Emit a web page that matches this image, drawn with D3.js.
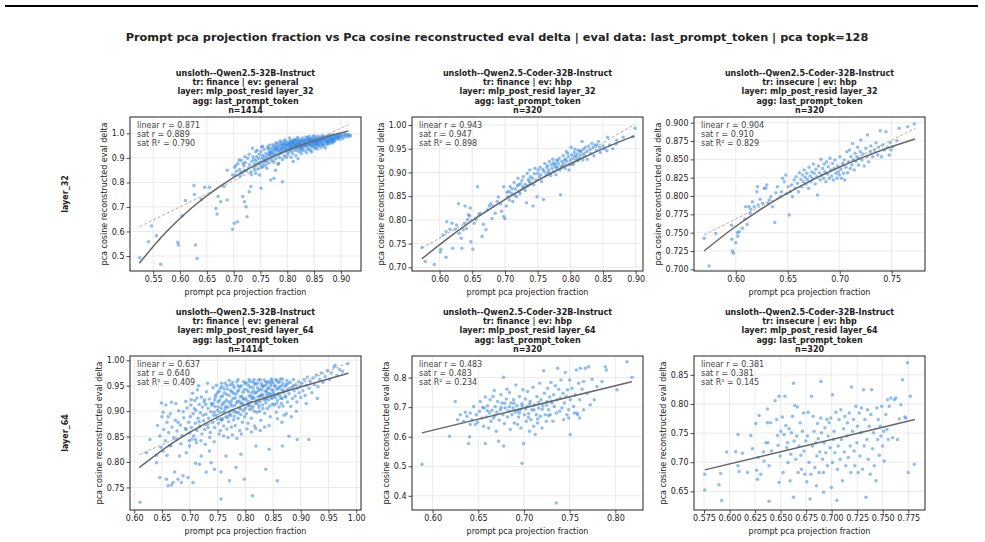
<!DOCTYPE html>
<html><head><meta charset="utf-8">
<script src="https://cdn.jsdelivr.net/npm/d3@7"></script>
<style>body{margin:0;background:#fff}svg text{font-family:"DejaVu Sans",sans-serif}</style>
</head><body><svg id="c" width="985" height="542"></svg>
<script>
const mainTitle = "Prompt pca projection fraction vs Pca cosine reconstructed eval delta | eval data: last_prompt_token | pca topk=128";
const rowLabels = ["layer_32", "layer_64"];
const panelTitles = [
  ["unsloth--Qwen2.5-32B-Instruct","tr: finance | ev: general","layer: mlp_post_resid layer_32","agg: last_prompt_token","n=1414"],
  ["unsloth--Qwen2.5-Coder-32B-Instruct","tr: finance | ev: hbp","layer: mlp_post_resid layer_32","agg: last_prompt_token","n=320"],
  ["unsloth--Qwen2.5-Coder-32B-Instruct","tr: insecure | ev: hbp","layer: mlp_post_resid layer_32","agg: last_prompt_token","n=320"],
  ["unsloth--Qwen2.5-32B-Instruct","tr: finance | ev: general","layer: mlp_post_resid layer_64","agg: last_prompt_token","n=1414"],
  ["unsloth--Qwen2.5-Coder-32B-Instruct","tr: finance | ev: hbp","layer: mlp_post_resid layer_64","agg: last_prompt_token","n=320"],
  ["unsloth--Qwen2.5-Coder-32B-Instruct","tr: insecure | ev: hbp","layer: mlp_post_resid layer_64","agg: last_prompt_token","n=320"]
];
const statTexts = [
  ["linear r = 0.871","sat r = 0.889","sat R\u00b2 = 0.790"],
  ["linear r = 0.943","sat r = 0.947","sat R\u00b2 = 0.898"],
  ["linear r = 0.904","sat r = 0.910","sat R\u00b2 = 0.829"],
  ["linear r = 0.637","sat r = 0.640","sat R\u00b2 = 0.409"],
  ["linear r = 0.483","sat r = 0.483","sat R\u00b2 = 0.234"],
  ["linear r = 0.381","sat r = 0.381","sat R\u00b2 = 0.145"]
];
const xLabel = "prompt pca projection fraction";
const yLabel = "pca cosine reconstructed eval delta";
const xTicks = [
  [0.55,0.60,0.65,0.70,0.75,0.80,0.85,0.90],
  [0.60,0.65,0.70,0.75,0.80,0.85,0.90],
  [0.60,0.65,0.70,0.75],
  [0.60,0.65,0.70,0.75,0.80,0.85,0.90,0.95,1.00],
  [0.60,0.65,0.70,0.75,0.80],
  [0.575,0.600,0.625,0.650,0.675,0.700,0.725,0.750,0.775]
];
const xFormats = [".2f",".2f",".2f",".2f",".2f",".3f"];
const yTicks = [
  [0.5,0.6,0.7,0.8,0.9,1.0],
  [0.70,0.75,0.80,0.85,0.90,0.95,1.00],
  [0.700,0.725,0.750,0.775,0.800,0.825,0.850,0.875,0.900],
  [0.75,0.80,0.85,0.90,0.95,1.00],
  [0.4,0.5,0.6,0.7,0.8],
  [0.65,0.70,0.75,0.80,0.85]
];
const yFormats = [".1f",".2f",".3f",".2f",".1f",".2f"];
const xDomains = [[0.5068,0.9374],[0.5578,0.9112],[0.5598,0.7821],[0.5923,1.0086],[0.5775,0.8303],[0.5652,0.7914]];
const yDomains = [[0.4388,1.0666],[0.6922,1.0169],[0.6977,0.9078],[0.7057,1.0084],[0.352,0.873],[0.618,0.8824]];

// saturating fit curves
const sat1 = [[0.524,0.470],[0.5728,0.5943],[0.6215,0.6955],[0.6703,0.7779],[0.719,0.845],[0.7678,0.8997],[0.8165,0.9441],[0.8653,0.9804],[0.914,1.010]];
const sat2 = [[0.573,0.718],[0.6136,0.7621],[0.6543,0.8024],[0.6949,0.8387],[0.7355,0.872],[0.7761,0.902],[0.8168,0.9295],[0.8574,0.9544],[0.898,0.977]];
const sat3 = [[0.5695,0.725],[0.5949,0.7533],[0.6203,0.7784],[0.6456,0.8005],[0.671,0.820],[0.6964,0.8372],[0.7218,0.8524],[0.7471,0.8658],[0.7725,0.8777]];
const sat4 = [[0.609,0.789],[0.670,0.838],[0.730,0.877],[0.789,0.908],[0.849,0.931],[0.909,0.9505],[0.986,0.9746]];
const sat5 = [[0.5883,0.6129],[0.818,0.786]];
const sat6 = [[0.5757,0.6869],[0.7815,0.7733]];
// linear fit (dashed)
const lin1 = [[0.525,0.620],[0.914,1.036]];
const lin2 = [[0.573,0.740],[0.898,1.001]];
const lin3 = [[0.5695,0.7468],[0.7725,0.8923]];
const lin4 = [[0.609,0.8145],[0.986,0.9954]];

const pts1 = [
[0.525,0.493],[0.541,0.558],[0.547,0.622],[0.556,0.582],[0.564,0.466],[0.596,0.556],[0.597,0.545],[0.604,0.664],[0.610,0.726],[0.626,0.787],[0.629,0.545],[0.632,0.490],[0.627,0.751],[0.640,0.731],[0.646,0.780],[0.655,0.780],[0.667,0.694],[0.669,0.671],[0.671,0.742],[0.676,0.721],[0.682,0.783],[0.688,0.728],[0.698,0.830],[0.698,0.609],[0.701,0.633],[0.707,0.640],[0.688,0.850],[0.704,0.869],[0.710,0.891],[0.713,0.840],[0.720,0.850],[0.717,0.742],[0.720,0.721],[0.723,0.701],[0.725,0.660],[0.729,0.762],[0.732,0.783],[0.735,0.939],[0.741,0.925],[0.741,0.837],[0.748,0.830],[0.751,0.776],[0.754,0.864],[0.760,0.891],[0.766,0.918],[0.769,0.810],[0.775,0.817],[0.778,0.850],[0.784,0.878],[0.754,0.946],[0.791,0.803],
[0.702,0.862],[0.705,0.845],[0.708,0.877],[0.711,0.853],[0.714,0.89],[0.716,0.838],[0.719,0.868],[0.722,0.881],[0.724,0.846],[0.726,0.898],[0.728,0.859],[0.73,0.872],[0.732,0.842],[0.734,0.886],[0.736,0.905],[0.737,0.861],[0.739,0.876],[0.703,0.83],[0.712,0.826],[0.721,0.905],[0.729,0.915],[0.733,0.831],[0.738,0.894],[0.74,0.852],[0.718,0.878],
[0.741,0.868],[0.742,0.889],[0.743,0.905],[0.745,0.878],[0.746,0.856],[0.747,0.897],[0.748,0.915],[0.749,0.872],[0.75,0.884],[0.751,0.926],[0.752,0.861],[0.753,0.899],[0.754,0.911],[0.755,0.876],[0.756,0.891],[0.757,0.934],[0.758,0.905],[0.759,0.868],[0.76,0.918],[0.761,0.886],[0.762,0.9],[0.763,0.942],[0.764,0.912],[0.765,0.879],[0.766,0.927],[0.767,0.894],[0.768,0.908],[0.769,0.937],[0.77,0.901],[0.744,0.931],[0.752,0.944],[0.758,0.886],[0.762,0.858],[0.766,0.951],[0.769,0.916],
[0.771,0.923],[0.772,0.889],[0.773,0.941],[0.774,0.908],[0.775,0.93],[0.776,0.951],[0.777,0.915],[0.778,0.897],[0.779,0.936],[0.78,0.924],[0.781,0.958],[0.782,0.911],[0.783,0.945],[0.784,0.929],[0.785,0.902],[0.786,0.962],[0.787,0.938],[0.788,0.919],[0.789,0.951],[0.79,0.933],[0.791,0.944],[0.792,0.965],[0.793,0.925],[0.794,0.908],[0.795,0.956],[0.796,0.94],[0.797,0.931],[0.798,0.968],[0.799,0.947],[0.8,0.922],[0.772,0.953],[0.775,0.882],[0.779,0.962],[0.783,0.874],[0.787,0.969],[0.791,0.893],[0.795,0.973],[0.798,0.901],[0.774,0.917],[0.778,0.945],[0.782,0.934],[0.786,0.92],[0.79,0.957],[0.794,0.939],[0.797,0.952],
[0.801,0.951],[0.802,0.935],[0.803,0.962],[0.804,0.944],[0.805,0.927],[0.806,0.972],[0.807,0.953],[0.808,0.94],[0.809,0.965],[0.81,0.918],[0.811,0.948],[0.812,0.958],[0.813,0.976],[0.814,0.936],[0.815,0.962],[0.816,0.95],[0.817,0.929],[0.818,0.968],[0.819,0.955],[0.82,0.942],[0.821,0.977],[0.822,0.961],[0.823,0.949],[0.824,0.935],[0.825,0.97],[0.826,0.957],[0.827,0.945],[0.828,0.981],[0.829,0.963],[0.83,0.952],[0.801,0.912],[0.804,0.981],[0.807,0.903],[0.81,0.967],[0.813,0.944],[0.816,0.909],[0.819,0.983],[0.822,0.925],[0.825,0.946],[0.828,0.938],[0.803,0.956],[0.806,0.946],[0.809,0.931],[0.812,0.97],[0.815,0.954],[0.818,0.941],[0.821,0.959],[0.824,0.966],[0.827,0.929],[0.83,0.973],[0.811,0.885],[0.82,0.896],[0.826,0.917],[0.808,0.958],[0.817,0.974],
[0.831,0.962],[0.832,0.944],[0.833,0.975],[0.834,0.956],[0.835,0.969],[0.836,0.948],[0.837,0.983],[0.838,0.96],[0.839,0.971],[0.84,0.937],[0.841,0.965],[0.842,0.953],[0.843,0.979],[0.844,0.967],[0.845,0.945],[0.846,0.974],[0.847,0.958],[0.848,0.986],[0.849,0.962],[0.85,0.951],[0.851,0.977],[0.852,0.966],[0.853,0.943],[0.854,0.981],[0.855,0.97],[0.856,0.958],[0.857,0.988],[0.858,0.974],[0.859,0.963],[0.86,0.979],[0.832,0.929],[0.835,0.985],[0.838,0.935],[0.841,0.988],[0.844,0.93],[0.847,0.946],[0.85,0.99],[0.853,0.961],[0.856,0.936],[0.859,0.948],[0.834,0.961],[0.837,0.95],[0.84,0.976],[0.843,0.958],[0.846,0.964],[0.849,0.972],[0.852,0.955],[0.855,0.962],[0.858,0.952],[0.836,0.921],[0.845,0.924],[0.851,0.938],[0.857,0.968],[0.842,0.971],[0.854,0.967],
[0.861,0.967],[0.862,0.985],[0.863,0.955],[0.864,0.975],[0.865,0.962],[0.866,0.991],[0.867,0.971],[0.868,0.948],[0.869,0.981],[0.87,0.966],[0.871,0.976],[0.872,0.958],[0.873,0.988],[0.874,0.97],[0.875,0.979],[0.876,0.962],[0.877,0.993],[0.878,0.975],[0.879,0.984],[0.88,0.968],[0.881,0.978],[0.882,0.99],[0.883,0.961],[0.884,0.982],[0.885,0.973],[0.886,0.995],[0.887,0.979],[0.888,0.987],[0.889,0.971],[0.89,0.983],[0.863,0.943],[0.867,0.952],[0.871,0.94],[0.875,0.955],[0.879,0.96],[0.883,0.974],[0.887,0.966],[0.865,0.978],[0.873,0.967],[0.881,0.97],
[0.891,0.991],[0.892,0.978],[0.893,0.986],[0.894,0.996],[0.895,0.981],[0.896,0.99],[0.897,0.975],[0.898,0.994],[0.899,0.985],[0.9,0.998],[0.902,0.987],[0.903,0.979],[0.905,0.993],[0.907,0.999],[0.908,0.985],[0.91,0.991],[0.912,0.996],[0.914,0.987],[0.916,0.993],[0.918,0.99],
[0.802,0.958],[0.805,0.965],[0.808,0.948],[0.811,0.962],[0.814,0.971],[0.817,0.955],[0.82,0.967],[0.823,0.958],[0.826,0.972],[0.829,0.948],[0.832,0.968],[0.835,0.958],[0.838,0.975],[0.841,0.952],[0.844,0.976],[0.847,0.968],[0.85,0.978],[0.853,0.97],[0.856,0.98],[0.859,0.972],[0.862,0.968],[0.865,0.984],[0.868,0.975],[0.871,0.985],[0.874,0.98],[0.877,0.97],[0.88,0.988],[0.883,0.98],[0.886,0.975],[0.889,0.99],
[0.79,0.94],[0.793,0.952],[0.796,0.96],[0.799,0.935],[0.78,0.94],[0.784,0.95],[0.788,0.93],[0.776,0.935],[0.77,0.925],[0.765,0.938],
[0.805,0.94],[0.815,0.945],[0.825,0.94],[0.835,0.952],[0.845,0.96],[0.855,0.952],[0.865,0.958],[0.875,0.965],[0.885,0.965],[0.895,0.985]
];
const pts2 = [
[0.573,0.742],[0.578,0.712],[0.592,0.706],[0.601,0.732],[0.602,0.738],[0.605,0.768],[0.610,0.775],[0.611,0.796],[0.610,0.721],[0.616,0.780],[0.619,0.793],[0.620,0.740],[0.624,0.780],[0.626,0.789],[0.629,0.834],[0.630,0.772],[0.633,0.761],[0.634,0.740],[0.636,0.779],[0.638,0.793],[0.641,0.782],[0.643,0.801],[0.639,0.829],[0.647,0.825],[0.644,0.811],[0.646,0.808],[0.648,0.754],[0.651,0.738],[0.653,0.793],[0.656,0.801],[0.658,0.870],[0.660,0.811],[0.662,0.814],[0.665,0.765],[0.667,0.791],[0.671,0.779],[0.673,0.821],[0.676,0.829],[0.678,0.834],[0.680,0.803],[0.682,0.829],[0.685,0.814],[0.688,0.839],[0.690,0.848],[0.693,0.834],[0.695,0.818],[0.698,0.807],[0.698,0.870],[0.700,0.803],[0.702,0.829],[0.704,0.849],[0.706,0.860],[0.708,0.870],[0.710,0.856],[0.712,0.839],[0.714,0.879],[0.716,0.865],[0.718,0.849],[0.720,0.888],[0.721,0.874],[0.722,0.860],[0.724,0.876],[0.726,0.883],[0.728,0.891],[0.729,0.867],[0.731,0.875],[0.733,0.836],[0.734,0.898],[0.736,0.885],[0.737,0.881],[0.738,0.905],[0.739,0.891],[0.742,0.888],[0.743,0.829],[0.744,0.874],[0.745,0.897],[0.746,0.909],[0.748,0.884],[0.749,0.849],[0.750,0.898],[0.751,0.905],[0.753,0.891],[0.754,0.911],[0.755,0.895],[0.756,0.881],[0.758,0.906],[0.759,0.843],[0.760,0.902],[0.761,0.919],[0.763,0.895],[0.764,0.911],[0.765,0.914],[0.767,0.905],[0.768,0.923],[0.769,0.898],[0.771,0.916],[0.772,0.909],[0.773,0.928],[0.774,0.902],[0.776,0.914],[0.777,0.919],[0.778,0.895],[0.779,0.926],[0.780,0.911],[0.782,0.918],[0.783,0.930],[0.784,0.905],[0.785,0.853],[0.787,0.923],[0.788,0.914],[0.789,0.935],[0.790,0.919],[0.792,0.909],[0.793,0.928],[0.794,0.944],[0.795,0.923],[0.797,0.933],[0.799,0.916],[0.800,0.926],[0.801,0.953],[0.802,0.937],[0.804,0.930],[0.805,0.919],[0.806,0.942],[0.807,0.949],[0.809,0.933],[0.810,0.926],[0.811,0.939],[0.812,0.947],[0.814,0.930],[0.815,0.944],[0.816,0.937],[0.818,0.965],[0.819,0.926],[0.820,0.949],[0.821,0.940],[0.823,0.953],[0.825,0.944],[0.828,0.956],[0.830,0.949],[0.833,0.961],[0.835,0.953],[0.838,0.958],[0.840,0.947],[0.843,0.965],[0.845,0.953],[0.850,0.956],[0.856,0.946],[0.857,0.974],[0.871,0.968],[0.881,0.974],[0.896,0.975],[0.899,0.993],
[0.703,0.858],[0.707,0.842],[0.711,0.865],[0.715,0.852],[0.719,0.872],[0.723,0.855],[0.727,0.87],[0.731,0.862],[0.735,0.872],[0.739,0.878],
[0.766,0.9],[0.77,0.893],[0.774,0.92],[0.778,0.91],[0.781,0.924],[0.786,0.912],[0.791,0.926],[0.796,0.94],[0.798,0.905],[0.803,0.917],[0.807,0.935],[0.812,0.925],[0.816,0.945],[0.822,0.934],[0.826,0.928],[0.831,0.94],[0.836,0.935],[0.841,0.958],[0.846,0.942],[0.852,0.95],[0.86,0.958],[0.865,0.95],[0.87,0.96]
];
const pts3 = [
[0.5695,0.7423],[0.5743,0.7046],[0.5807,0.749],[0.5968,0.725],[0.5961,0.741],[0.600,0.7364],[0.6016,0.750],[0.6032,0.7514],[0.5977,0.7218],[0.6064,0.756],[0.6087,0.7686],[0.6096,0.7855],[0.6128,0.7855],[0.6145,0.7818],[0.6138,0.7764],[0.616,0.7923],[0.6177,0.7855],[0.6202,0.8059],[0.6215,0.7877],[0.6234,0.7955],[0.6257,0.790],[0.6273,0.8105],[0.6299,0.815],[0.6311,0.790],[0.6321,0.7945],[0.6337,0.7991],[0.6353,0.7855],[0.6376,0.764],[0.6385,0.8045],[0.6401,0.8127],[0.6427,0.7991],[0.644,0.8059],[0.645,0.8241],[0.6466,0.8195],[0.6482,0.8286],[0.6491,0.8036],[0.6504,0.8127],[0.6514,0.7741],[0.6523,0.8059],[0.6536,0.815],[0.6546,0.7991],[0.6562,0.8218],[0.6572,0.8105],[0.6581,0.8264],[0.6594,0.8173],[0.6604,0.8059],[0.6613,0.8318],[0.6626,0.8227],[0.6633,0.8127],[0.6642,0.8286],[0.6652,0.8195],[0.6658,0.8355],[0.6668,0.8255],[0.6674,0.8164],[0.6684,0.8309],[0.669,0.8227],[0.670,0.8105],[0.6706,0.8391],[0.6716,0.8273],[0.6722,0.8195],[0.6732,0.8327],[0.6739,0.8241],[0.6748,0.8436],[0.6755,0.8309],[0.6764,0.8164],[0.6771,0.8364],[0.678,0.8264],[0.6787,0.8014],[0.6796,0.8409],[0.6803,0.8318],[0.6812,0.8218],[0.6819,0.850],[0.6825,0.8286],[0.6835,0.8377],[0.6845,0.8241],[0.6851,0.8436],[0.6857,0.8332],[0.6867,0.8195],[0.6874,0.8468],[0.6883,0.830],[0.6889,0.840],[0.6899,0.8241],[0.6906,0.8514],[0.6915,0.8355],[0.6922,0.8273],[0.6931,0.8445],[0.6938,0.8218],[0.6947,0.8377],[0.6954,0.8491],[0.6963,0.8309],[0.6973,0.8241],[0.6979,0.8409],[0.6986,0.8332],[0.6995,0.8286],[0.7002,0.8536],[0.7012,0.8364],[0.7018,0.8241],[0.7028,0.8445],[0.7037,0.8309],[0.7044,0.8491],[0.705,0.8218],[0.706,0.8391],[0.7069,0.8605],[0.7076,0.8318],[0.7085,0.8468],[0.7095,0.8627],[0.7101,0.8377],[0.7108,0.8536],[0.7117,0.8423],[0.7124,0.8718],[0.7133,0.8491],[0.714,0.8355],[0.7149,0.8582],[0.7156,0.8473],[0.7166,0.8536],[0.7172,0.8664],[0.7182,0.8423],[0.7188,0.8514],[0.7198,0.8605],[0.7204,0.8764],[0.7214,0.8491],[0.7223,0.8573],[0.7236,0.8409],[0.7252,0.865],[0.7262,0.8536],[0.7268,0.8832],[0.7278,0.8468],[0.7294,0.8605],[0.730,0.8682],[0.7317,0.8536],[0.7333,0.8627],[0.7349,0.8727],[0.7365,0.8559],[0.7374,0.8664],[0.739,0.8891],[0.7403,0.8536],[0.7413,0.8695],[0.7429,0.8627],[0.7445,0.8877],[0.7461,0.8664],[0.7477,0.8559],[0.7487,0.8727],[0.7493,0.8627],[0.7573,0.8923],[0.7654,0.8945],[0.7718,0.8982],[0.751,0.8673],[0.755,0.8755],
[0.602,0.745],[0.611,0.761],[0.596,0.760],[0.6209,0.8127],[0.6289,0.8105]
];
const pts4 = [
[0.6101,0.7207],[0.640,0.7988],[0.646,0.7695],[0.6579,0.7663],[0.6609,0.7533],[0.6669,0.7546],[0.6728,0.7806],[0.6699,0.7598],[0.6788,0.7663],[0.6848,0.7598],[0.6878,0.7728],[0.6967,0.7695],[0.7057,0.7598],[0.7104,0.7975],[0.7176,0.7956],[0.7296,0.7806],[0.7385,0.7988],[0.7445,0.7858],[0.7564,0.7272],[0.7564,0.7806],[0.7713,0.763],[0.7833,0.789],[0.7982,0.7663],[0.8131,0.7337],[0.837,0.7858],[0.8579,0.763],[0.9146,0.8444],[0.640,0.8132],[0.6519,0.8216],[0.6591,0.8132],[0.6639,0.8327],[0.6519,0.8978],[0.6669,0.9173],[0.6937,0.8639],[0.7027,0.9225],[0.7266,0.9225],[0.7104,0.8444],[0.6281,0.8444],[0.6221,0.8184],[0.6758,0.8444],[0.6818,0.8118],[0.6937,0.8184],[0.6997,0.8314],[0.7206,0.8118],[0.7355,0.8216],[0.7654,0.8118],[0.7922,0.8151],[0.8191,0.8314],[0.843,0.8249],[0.8669,0.8314],[0.8788,0.8509],[0.8937,0.8444],[0.649,0.916],
[0.642,0.872],[0.646,0.851],[0.65,0.889],[0.653,0.864],[0.656,0.842],[0.659,0.878],[0.662,0.858],[0.665,0.895],[0.668,0.869],[0.671,0.848],[0.674,0.882],[0.677,0.861],[0.68,0.901],[0.683,0.873],[0.686,0.852],[0.689,0.887],[0.692,0.866],[0.695,0.906],[0.698,0.878],[0.7,0.857],[0.648,0.829],[0.657,0.912],[0.666,0.832],[0.675,0.915],[0.684,0.836],[0.693,0.919],[0.699,0.842],[0.661,0.889],[0.679,0.878],[0.688,0.899],
[0.701,0.889],[0.702,0.912],[0.703,0.868],[0.705,0.935],[0.706,0.895],[0.707,0.851],[0.709,0.921],[0.71,0.876],[0.711,0.902],[0.713,0.862],[0.714,0.942],[0.715,0.886],[0.717,0.913],[0.718,0.871],[0.719,0.897],[0.721,0.928],[0.722,0.855],[0.723,0.908],[0.725,0.881],[0.726,0.918],[0.727,0.864],[0.729,0.894],[0.73,0.938],[0.731,0.874],[0.733,0.905],[0.734,0.886],[0.735,0.924],[0.737,0.858],[0.738,0.899],[0.739,0.915],[0.741,0.878],[0.742,0.946],[0.743,0.892],[0.745,0.868],[0.746,0.909],[0.747,0.932],[0.749,0.885],[0.75,0.902],[0.704,0.845],[0.712,0.838],[0.72,0.842],[0.728,0.835],[0.736,0.848],[0.744,0.84],[0.716,0.95],[0.732,0.955],[0.748,0.951],[0.708,0.905],[0.724,0.892],[0.74,0.911],[0.717,0.879],[0.733,0.868],[0.745,0.922],[0.729,0.913],[0.713,0.926],
[0.751,0.918],[0.752,0.876],[0.753,0.939],[0.754,0.897],[0.755,0.862],[0.756,0.928],[0.757,0.905],[0.758,0.948],[0.759,0.884],[0.76,0.915],[0.761,0.871],[0.762,0.936],[0.763,0.899],[0.764,0.955],[0.765,0.889],[0.766,0.922],[0.767,0.865],[0.768,0.943],[0.769,0.908],[0.77,0.879],[0.771,0.931],[0.772,0.894],[0.773,0.952],[0.774,0.914],[0.775,0.869],[0.776,0.938],[0.777,0.902],[0.778,0.925],[0.779,0.883],[0.78,0.946],[0.781,0.911],[0.782,0.872],[0.783,0.933],[0.784,0.897],[0.785,0.958],[0.786,0.919],[0.787,0.886],[0.788,0.941],[0.789,0.906],[0.79,0.862],[0.791,0.929],[0.792,0.893],[0.793,0.95],[0.794,0.916],[0.795,0.878],[0.796,0.937],[0.797,0.901],[0.798,0.923],[0.799,0.889],[0.8,0.954],[0.753,0.855],[0.761,0.851],[0.769,0.848],[0.777,0.853],[0.785,0.846],[0.793,0.855],[0.757,0.882],[0.765,0.909],[0.773,0.891],[0.781,0.9],[0.789,0.92],[0.797,0.912],[0.755,0.945],[0.771,0.96],[0.787,0.962],[0.759,0.93],[0.775,0.92],[0.791,0.905],[0.763,0.918],[0.779,0.935],
[0.801,0.925],[0.802,0.895],[0.803,0.942],[0.804,0.911],[0.805,0.876],[0.806,0.951],[0.807,0.93],[0.808,0.903],[0.809,0.947],[0.81,0.918],[0.811,0.886],[0.812,0.936],[0.813,0.958],[0.814,0.909],[0.815,0.94],[0.816,0.925],[0.817,0.871],[0.818,0.953],[0.819,0.915],[0.82,0.937],[0.821,0.898],[0.822,0.946],[0.823,0.928],[0.824,0.961],[0.825,0.907],[0.826,0.943],[0.827,0.919],[0.828,0.882],[0.829,0.955],[0.83,0.933],[0.831,0.912],[0.832,0.948],[0.833,0.924],[0.834,0.961],[0.835,0.896],[0.836,0.939],[0.837,0.916],[0.838,0.952],[0.839,0.931],[0.84,0.905],[0.841,0.945],[0.842,0.922],[0.843,0.958],[0.844,0.935],[0.845,0.889],[0.846,0.95],[0.847,0.927],[0.848,0.942],[0.849,0.914],[0.85,0.956],[0.803,0.865],[0.811,0.859],[0.819,0.866],[0.827,0.862],[0.835,0.869],[0.843,0.872],[0.806,0.915],[0.814,0.928],[0.822,0.921],[0.83,0.95],[0.838,0.94],[0.846,0.932],[0.808,0.958],[0.816,0.962],[0.824,0.94],[0.832,0.931],[0.84,0.957],[0.848,0.96],[0.812,0.905],[0.826,0.9],
[0.851,0.935],[0.852,0.912],[0.853,0.951],[0.854,0.927],[0.855,0.962],[0.856,0.898],[0.857,0.943],[0.858,0.921],[0.859,0.956],[0.86,0.935],[0.861,0.908],[0.862,0.948],[0.863,0.93],[0.864,0.963],[0.865,0.915],[0.866,0.942],[0.867,0.925],[0.868,0.955],[0.869,0.937],[0.87,0.892],[0.872,0.949],[0.873,0.928],[0.875,0.96],[0.876,0.918],[0.878,0.944],[0.879,0.934],[0.881,0.957],[0.882,0.909],[0.884,0.947],[0.885,0.925],[0.887,0.962],[0.888,0.94],[0.89,0.93],[0.891,0.952],[0.893,0.918],[0.894,0.945],[0.896,0.958],[0.897,0.936],[0.899,0.949],[0.9,0.927],[0.858,0.885],[0.866,0.878],[0.874,0.895],[0.883,0.889],[0.892,0.9],
[0.902,0.955],[0.904,0.94],[0.906,0.962],[0.908,0.931],[0.91,0.951],[0.912,0.967],[0.915,0.945],[0.917,0.958],[0.92,0.936],[0.922,0.965],[0.925,0.952],[0.928,0.971],[0.931,0.948],[0.934,0.962],[0.937,0.975],[0.94,0.957],[0.944,0.968],[0.948,0.98],[0.952,0.962],[0.955,0.975],[0.96,0.987],[0.965,0.97],[0.97,0.982],[0.975,0.978],[0.985,0.993],[0.962,0.99],[0.91,0.915],[0.93,0.925],
[0.742,0.915],[0.746,0.928],[0.75,0.936],[0.754,0.921],[0.758,0.912],[0.762,0.944],[0.766,0.933],[0.77,0.918],[0.774,0.94],[0.778,0.951],[0.782,0.926],[0.786,0.938],[0.79,0.947],[0.794,0.929],[0.798,0.942],[0.802,0.956],[0.806,0.938],[0.81,0.93],[0.814,0.947],[0.818,0.935],[0.822,0.955],[0.826,0.93],[0.83,0.942],[0.834,0.95],[0.838,0.925],[0.842,0.945],[0.846,0.955],[0.85,0.94],[0.854,0.948],[0.858,0.932],[0.862,0.958],[0.866,0.95],[0.87,0.94],[0.874,0.952],
[0.744,0.898],[0.748,0.892],[0.752,0.908],[0.756,0.885],[0.76,0.898],[0.764,0.905],[0.768,0.887],[0.772,0.9],[0.776,0.91],[0.78,0.89],[0.784,0.916],[0.788,0.897],[0.792,0.915],[0.796,0.925],[0.8,0.905],[0.804,0.92],[0.808,0.91],[0.812,0.925],[0.816,0.9],[0.82,0.917],[0.824,0.912],[0.828,0.93],[0.832,0.905],[0.836,0.922],[0.84,0.935],[0.844,0.91],[0.848,0.925],[0.852,0.93],[0.856,0.915],[0.86,0.945],[0.864,0.925],[0.868,0.91],[0.872,0.93],[0.876,0.94],
[0.757,0.955],[0.767,0.95],[0.777,0.957],[0.787,0.95],[0.797,0.958],[0.807,0.962],[0.817,0.955],[0.827,0.962],[0.837,0.958],[0.847,0.963],[0.857,0.96],[0.867,0.963],[0.877,0.955],[0.887,0.95]
];
const pts5 = [
[0.5883,0.5064],[0.6186,0.6017],[0.6248,0.7193],[0.6274,0.6577],[0.6394,0.577],[0.6405,0.5994],[0.6376,0.6689],[0.6412,0.6801],[0.6431,0.6577],[0.6449,0.7025],[0.6467,0.6409],[0.6478,0.6745],[0.6493,0.6487],[0.6515,0.6857],[0.6522,0.7193],[0.654,0.6633],[0.6558,0.6353],[0.6566,0.6969],[0.6577,0.7339],[0.6577,0.577],[0.6588,0.6667],[0.6602,0.7048],[0.6613,0.6297],[0.6624,0.6801],[0.6631,0.7249],[0.6639,0.6521],[0.665,0.6891],[0.6661,0.7361],[0.6668,0.6633],[0.6675,0.7563],[0.6686,0.7025],[0.6697,0.6185],[0.6704,0.6824],[0.6712,0.7193],[0.6723,0.5849],[0.673,0.6566],[0.6741,0.6913],[0.6748,0.7417],[0.6759,0.7137],[0.677,0.6745],[0.6777,0.8011],[0.6777,0.5681],[0.6785,0.6443],[0.6796,0.6969],[0.6807,0.7272],[0.6814,0.7608],[0.6821,0.6667],[0.6832,0.6857],[0.6843,0.7496],[0.685,0.6241],[0.6858,0.7137],[0.6869,0.6745],[0.688,0.6969],[0.6887,0.7249],[0.6894,0.6465],[0.6905,0.6824],[0.6912,0.7753],[0.6923,0.7048],[0.6931,0.641],[0.6942,0.6667],[0.6952,0.7361],[0.696,0.6913],[0.6967,0.6297],[0.6978,0.7115],[0.6989,0.7585],[0.6978,0.5098],[0.6996,0.577],[0.7004,0.6745],[0.7015,0.7272],[0.7026,0.6521],[0.7033,0.7025],[0.704,0.7529],[0.7051,0.6779],[0.7062,0.6185],[0.7069,0.7193],[0.7077,0.6577],[0.7088,0.6913],[0.7099,0.7675],[0.7106,0.6353],[0.7113,0.7081],[0.7124,0.6073],[0.7135,0.6745],[0.7142,0.7361],[0.715,0.6465],[0.7161,0.6969],[0.7172,0.781],[0.7179,0.6689],[0.7186,0.7249],[0.7197,0.6297],[0.7208,0.7048],[0.7215,0.8235],[0.7223,0.7473],[0.7234,0.6745],[0.7245,0.6521],[0.7252,0.7193],[0.7259,0.7641],[0.727,0.6913],[0.7281,0.7339],[0.7288,0.6745],[0.7296,0.7832],[0.7307,0.7137],[0.7318,0.6521],[0.7325,0.7417],[0.7332,0.7025],[0.7343,0.772],[0.7354,0.6801],[0.7361,0.7249],[0.7369,0.8314],[0.7354,0.3754],[0.738,0.7608],[0.7391,0.6857],[0.7398,0.7305],[0.7405,0.7922],[0.7416,0.6969],[0.7427,0.7473],[0.7434,0.6577],[0.7442,0.7137],[0.7453,0.8168],[0.7464,0.7361],[0.7471,0.6745],[0.7478,0.7585],[0.7489,0.6913],[0.75,0.7922],[0.7507,0.7249],[0.7526,0.7641],[0.7544,0.7025],[0.7562,0.7417],[0.7573,0.8258],[0.758,0.6801],[0.7588,0.6745],[0.7599,0.781],[0.761,0.7249],[0.7617,0.8314],[0.7635,0.7608],[0.7653,0.7866],[0.7672,0.8314],[0.769,0.7473],[0.7708,0.837],[0.7726,0.7081],[0.7745,0.7944],[0.777,0.7249],[0.7799,0.7697],[0.7854,0.7866],[0.789,0.837],[0.7901,0.8258],[0.8018,0.7585],[0.8128,0.8538],[0.8182,0.8011],[0.7507,0.6073],[0.7551,0.6801],[0.761,0.6633],[0.7653,0.6913],[0.7489,0.6633],
[0.6303,0.6745],[0.6339,0.6521],[0.6358,0.6824],[0.6412,0.641],
[0.684,0.701],[0.689,0.713],[0.693,0.689],[0.698,0.705],[0.702,0.694],[0.706,0.711],[0.711,0.69],[0.716,0.716],[0.72,0.693],[0.725,0.707],[0.73,0.72],[0.695,0.68],[0.705,0.665],[0.715,0.66],[0.727,0.672],[0.668,0.672],[0.675,0.699],[0.679,0.713],[0.66,0.688],[0.655,0.7]
];
const pts6 = [
[0.5757,0.6523],[0.5757,0.6795],[0.5897,0.6614],[0.5913,0.6807],[0.5923,0.6341],[0.5972,0.7176],[0.606,0.7182],[0.6083,0.7477],[0.6083,0.6938],[0.6126,0.7153],[0.6208,0.746],[0.6257,0.7665],[0.6266,0.6864],[0.6273,0.671],[0.6289,0.7801],[0.6279,0.708],[0.6306,0.6795],[0.6332,0.7176],[0.6338,0.7023],[0.6355,0.7335],[0.6371,0.7915],[0.6371,0.7676],[0.6377,0.7335],[0.6387,0.633],[0.6387,0.6938],[0.6403,0.7676],[0.641,0.7193],[0.6446,0.8057],[0.6462,0.7733],[0.6469,0.746],[0.6476,0.729],[0.6485,0.8131],[0.6485,0.6653],[0.6495,0.7108],[0.6502,0.7534],[0.6518,0.7778],[0.6525,0.6824],[0.6534,0.7477],[0.6544,0.8131],[0.6551,0.7631],[0.656,0.725],[0.6567,0.7335],[0.6573,0.6994],[0.6583,0.7574],[0.6593,0.6682],[0.66,0.7136],[0.6606,0.7506],[0.6616,0.779],[0.6626,0.8358],[0.6626,0.6398],[0.6632,0.7364],[0.6639,0.7972],[0.6649,0.7051],[0.6658,0.7449],[0.6665,0.7949],[0.6672,0.6824],[0.6681,0.7278],[0.6691,0.7676],[0.6698,0.7119],[0.6704,0.6881],[0.6714,0.7534],[0.6724,0.7847],[0.673,0.7193],[0.6737,0.6795],[0.6747,0.7364],[0.6757,0.6665],[0.6763,0.7449],[0.677,0.7858],[0.6779,0.6994],[0.6789,0.6369],[0.6796,0.6795],[0.6802,0.8131],[0.6812,0.7278],[0.6819,0.779],[0.6828,0.7534],[0.6835,0.6909],[0.6845,0.7335],[0.6851,0.6597],[0.6855,0.7108],[0.6861,0.7665],[0.6868,0.7403],[0.6877,0.6824],[0.6884,0.7176],[0.6894,0.8386],[0.6894,0.7761],[0.69,0.7506],[0.691,0.7051],[0.692,0.6483],[0.692,0.6824],[0.6926,0.7335],[0.6933,0.7591],[0.6943,0.7165],[0.6953,0.7733],[0.6959,0.6938],[0.6966,0.7449],[0.6975,0.7676],[0.6985,0.725],[0.6992,0.7761],[0.6998,0.6568],[0.7008,0.8159],[0.7008,0.6994],[0.7018,0.7392],[0.7024,0.7534],[0.7031,0.7165],[0.7041,0.7858],[0.7051,0.6341],[0.7057,0.6881],[0.7064,0.7278],[0.7073,0.7733],[0.7083,0.7051],[0.709,0.7903],[0.7096,0.7392],[0.7106,0.6682],[0.7116,0.7574],[0.7123,0.7176],[0.7129,0.779],[0.7139,0.6938],[0.7149,0.7449],[0.7155,0.7676],[0.7162,0.708],[0.7172,0.7847],[0.7181,0.7278],[0.7188,0.6824],[0.7194,0.829],[0.7204,0.7534],[0.7214,0.7733],[0.722,0.7193],[0.7227,0.6938],[0.7237,0.796],[0.7247,0.7335],[0.7253,0.7619],[0.726,0.6824],[0.727,0.7847],[0.7279,0.7108],[0.7286,0.7506],[0.7292,0.7932],[0.7302,0.6881],[0.7312,0.8244],[0.7318,0.7278],[0.7325,0.7733],[0.7335,0.6398],[0.7345,0.7392],[0.7351,0.7903],[0.7358,0.7051],[0.7368,0.7619],[0.7377,0.6795],[0.7384,0.7818],[0.7391,0.8244],[0.74,0.7233],[0.741,0.7506],[0.7417,0.6938],[0.7433,0.6682],[0.7443,0.7932],[0.745,0.7392],[0.7456,0.7733],[0.7466,0.7119],[0.7476,0.7619],[0.7482,0.7449],[0.7489,0.796],[0.7499,0.7278],[0.7508,0.7534],[0.7515,0.7023],[0.7531,0.7818],[0.7541,0.7562],[0.7547,0.8074],[0.7554,0.7392],[0.7564,0.796],[0.758,0.8102],[0.7597,0.742],[0.7613,0.8074],[0.7629,0.8102],[0.7645,0.7392],[0.7662,0.7744],[0.7678,0.7989],[0.7694,0.8415],[0.7717,0.7778],[0.7727,0.7761],[0.7743,0.871],[0.775,0.6824],[0.777,0.8131],[0.7809,0.6966],
[0.6093,0.6841],[0.6175,0.6824],[0.6224,0.7233]
];
const points = [pts1, pts2, pts3, pts4, pts5, pts6];
const satFits = [sat1, sat2, sat3, sat4, sat5, sat6];
const linFits = [lin1, lin2, lin3, lin4, null, null];

// ---- layout ----
const colX = [130, 412, 694], rowY = [117, 356], PW = 231, PH = 154;
const svg = d3.select("#c");

svg.append("line").attr("x1",5).attr("x2",978).attr("y1",6).attr("y2",6)
  .attr("stroke","#000").attr("stroke-width",2.2);

svg.append("text").attr("x",497).attr("y",41).attr("text-anchor","middle")
  .attr("font-size",11.3).attr("font-weight","bold").attr("fill","#222").text(mainTitle);

rowLabels.forEach((t,i)=>{
  const cy = rowY[i] + PH/2;
  svg.append("text").attr("transform",`translate(68,${cy}) rotate(-90)`)
    .attr("text-anchor","middle").attr("font-size",8).attr("font-weight","bold").attr("fill","#222").text(t);
});

points.forEach((pts, i)=>{
  const r = Math.floor(i/3), c = i%3;
  const x0 = colX[c], y0 = rowY[r];
  const g = svg.append("g").attr("transform",`translate(${x0},${y0})`);
  const xs = d3.scaleLinear().domain(xDomains[i]).range([0,PW]);
  const ys = d3.scaleLinear().domain(yDomains[i]).range([PH,0]);

  // grid
  g.append("g").selectAll("line").data(xTicks[i]).join("line")
    .attr("x1",d=>xs(d)).attr("x2",d=>xs(d)).attr("y1",0).attr("y2",PH)
    .attr("stroke","#e6e6e6").attr("stroke-width",0.8);
  g.append("g").selectAll("line").data(yTicks[i]).join("line")
    .attr("y1",d=>ys(d)).attr("y2",d=>ys(d)).attr("x1",0).attr("x2",PW)
    .attr("stroke","#e6e6e6").attr("stroke-width",0.8);

  // points
  g.append("g").selectAll("circle").data(pts).join("circle")
    .attr("cx",d=>xs(d[0])).attr("cy",d=>ys(d[1])).attr("r",1.75)
    .attr("fill","#3389e6").attr("fill-opacity",0.55);

  // fits
  if (linFits[i]) {
    g.append("path").datum(linFits[i])
      .attr("d", d3.line().x(d=>xs(d[0])).y(d=>ys(d[1])))
      .attr("fill","none").attr("stroke","#999").attr("stroke-width",0.8).attr("stroke-dasharray","3,2");
  }
  g.append("path").datum(satFits[i])
    .attr("d", d3.line().x(d=>xs(d[0])).y(d=>ys(d[1])).curve(d3.curveMonotoneX))
    .attr("fill","none").attr("stroke","#666").attr("stroke-width",1.5);

  // axes
  const xa = g.append("g").attr("transform",`translate(0,${PH})`)
    .call(d3.axisBottom(xs).tickValues(xTicks[i]).tickFormat(d3.format(xFormats[i])).tickSize(3.5).tickPadding(2).tickSizeOuter(0));
  const ya = g.append("g")
    .call(d3.axisLeft(ys).tickValues(yTicks[i]).tickFormat(d3.format(yFormats[i])).tickSize(3.5).tickPadding(2).tickSizeOuter(0));
  [xa, ya].forEach(a=>{
    a.select(".domain").remove();
    a.selectAll("text").attr("font-size",8).attr("fill","#222").attr("font-family","DejaVu Sans");
    a.selectAll("line").attr("stroke","#222").attr("stroke-width",0.8);
  });
  g.append("rect").attr("width",PW).attr("height",PH).attr("fill","none").attr("stroke","#222").attr("stroke-width",1);

  // stats
  statTexts[i].forEach((t,k)=>{
    g.append("text").attr("x",7).attr("y",11 + k*9.2).attr("font-size",8).attr("fill","#444").text(t);
  });

  // titles
  panelTitles[i].forEach((t,k)=>{
    g.append("text").attr("x",PW/2).attr("y",-41 + k*9.2).attr("text-anchor","middle")
      .attr("font-size",8).attr("font-weight","bold").attr("fill","#222").text(t);
  });

  // labels
  g.append("text").attr("x",PW/2).attr("y",PH+23.5).attr("text-anchor","middle")
    .attr("font-size",8).attr("fill","#222").text(xLabel);
  const bb = ya.node().getBBox();
  g.append("text").attr("transform",`translate(${bb.x - 5},${PH/2}) rotate(-90)`)
    .attr("text-anchor","middle").attr("font-size",8).attr("fill","#222").text(yLabel);
});
</script></body></html>
